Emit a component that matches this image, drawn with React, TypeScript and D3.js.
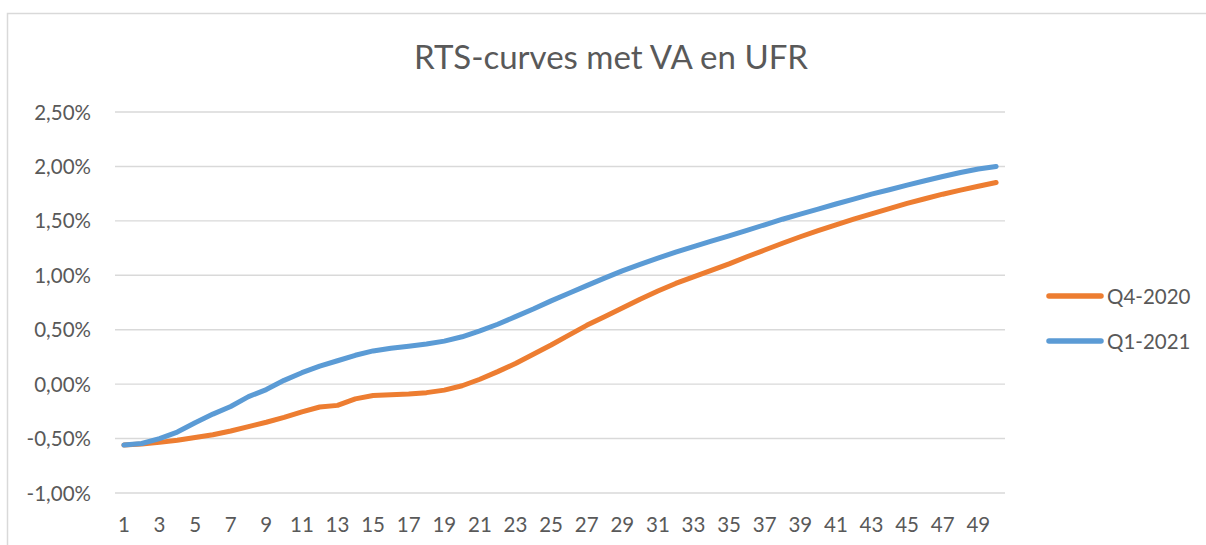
import React from 'react';
import * as d3 from 'd3';

// looptijden (jaren)
const maturities = [
  1, 2, 3, 4, 5, 6, 7, 8, 9, 10, 11, 12, 13, 14, 15, 16, 17, 18, 19, 20, 21, 22, 23, 24, 25,
  26, 27, 28, 29, 30, 31, 32, 33, 34, 35, 36, 37, 38, 39, 40, 41, 42, 43, 44, 45, 46, 47, 48, 49, 50,
];

// rentes in %
const q4_2020 = [
  -0.56, -0.55, -0.535, -0.515, -0.49, -0.465, -0.43, -0.39, -0.35, -0.305,
  -0.255, -0.21, -0.195, -0.135, -0.105, -0.097, -0.09, -0.078, -0.055, -0.015,
  0.045, 0.115, 0.19, 0.275, 0.36, 0.45, 0.54, 0.62, 0.7, 0.78,
  0.855, 0.925, 0.985, 1.045, 1.105, 1.17, 1.232, 1.294, 1.354, 1.41,
  1.463, 1.515, 1.565, 1.613, 1.66, 1.703, 1.745, 1.782, 1.818, 1.853,
];

const q1_2021 = [
  -0.56, -0.545, -0.5, -0.44, -0.355, -0.275, -0.205, -0.115, -0.05, 0.035,
  0.105, 0.165, 0.215, 0.265, 0.305, 0.33, 0.348, 0.368, 0.395, 0.435,
  0.49, 0.55, 0.62, 0.69, 0.765, 0.835, 0.905, 0.974, 1.04, 1.1,
  1.158, 1.212, 1.263, 1.313, 1.362, 1.412, 1.464, 1.515, 1.562, 1.608,
  1.655, 1.7, 1.745, 1.786, 1.828, 1.868, 1.907, 1.944, 1.976, 2.0,
];

const yTicks = [-1, -0.5, 0, 0.5, 1, 1.5, 2, 2.5];

const series = [
  { name: 'Q4-2020', values: q4_2020, color: '#ED7D31' },
  { name: 'Q1-2021', values: q1_2021, color: '#5B9BD5' },
];

const W = 1206;
const H = 545;
const plot = { left: 115, right: 1005, top: 112, bottom: 493 };
const font = 'Lato, "Open Sans", sans-serif';
const textColor = '#595959';

const nl = d3.formatLocale({ decimal: ',', thousands: '.', grouping: [3], currency: ['€', ''], minus: '-' });
const fmt = nl.format('.2f');

export default function App() {
  const x = d3.scaleBand<number>().domain(maturities).range([plot.left, plot.right]);
  const cx = (m: number) => (x(m) as number) + x.bandwidth() / 2;
  const y = d3.scaleLinear().domain([-1, 2.5]).range([plot.bottom, plot.top]);

  const line = d3
    .line<number>()
    .x((d, i) => cx(maturities[i]))
    .y(d => y(d));

  return (
    <svg width={W} height={H} style={{ position: 'absolute', left: 0, top: 0, background: '#fff' }}>
      <rect x={7.5} y={13.5} width={1220} height={560} fill="#fff" stroke="#d9d9d9" strokeWidth={1.5} />

      <text x={611} y={69} textAnchor="middle" fill={textColor} style={{ font: `33px ${font}` }}>
        RTS-curves met VA en UFR
      </text>

      <g className="grid">
        {yTicks.map(t => (
          <line key={t} x1={plot.left} x2={plot.right} y1={y(t)} y2={y(t)} stroke="#d9d9d9" strokeWidth={1.4} />
        ))}
      </g>

      <g className="y-axis">
        {yTicks.map(t => (
          <text key={t} x={91} y={y(t) + 7.5} textAnchor="end" fill={textColor} style={{ font: `20.5px ${font}` }}>
            {fmt(t)}%
          </text>
        ))}
      </g>

      <g className="x-axis">
        {maturities
          .filter(m => m % 2 === 1)
          .map(m => (
            <text key={m} x={cx(m)} y={532} textAnchor="middle" fill={textColor} style={{ font: `20.5px ${font}` }}>
              {m}
            </text>
          ))}
      </g>

      <g className="lines">
        {series.map(s => (
          <path
            key={s.name}
            d={line(s.values) as string}
            fill="none"
            stroke={s.color}
            strokeWidth={5}
            strokeLinecap="round"
            strokeLinejoin="round"
          />
        ))}
      </g>

      <g className="legend">
        {series.map((s, i) => (
          <g key={s.name} transform={`translate(0, ${296 + i * 45})`}>
            <line x1={1049} x2={1101} y1={0} y2={0} stroke={s.color} strokeWidth={5.5} strokeLinecap="round" />
            <text x={1107} y={7.5} fill={textColor} style={{ font: `20.5px ${font}` }}>
              {s.name}
            </text>
          </g>
        ))}
      </g>
    </svg>
  );
}
